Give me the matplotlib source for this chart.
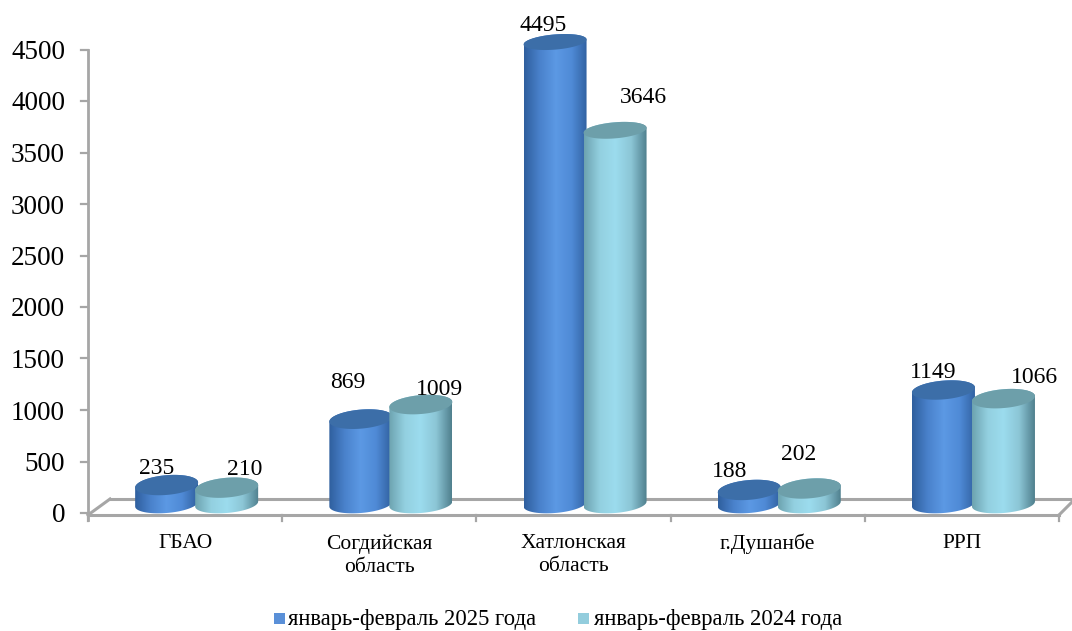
import numpy as np
import matplotlib
matplotlib.use("Agg")
import matplotlib.pyplot as plt
from matplotlib.colors import LinearSegmentedColormap
from matplotlib.patches import Polygon

W, H = 1072, 631

categories = ["ГБАО", "Согдийская\nобласть", "Хатлонская\nобласть", "г.Душанбе", "РРП"]
values_2025 = [235, 869, 4495, 188, 1149]
values_2024 = [210, 1009, 3646, 202, 1066]
series_names = ["январь-февраль 2025 года", "январь-февраль 2024 года"]
y_ticks = [0, 500, 1000, 1500, 2000, 2500, 3000, 3500, 4000, 4500]

# label nudges in pixels (dx, dy above the cylinder top), placed by hand in the original
label_nudge_2025 = [(-10, 17), (-13, 37), (-12, 17), (-20, 18), (-10, 18)]
label_nudge_2024 = [(18, 18), (19, 15), (28, 33), (-11, 34), (31, 21)]

plt.rcParams["font.family"] = ["Liberation Serif", "DejaVu Serif"]

blue = LinearSegmentedColormap.from_list("b", ["#2f5f9e", "#4a82cc", "#5c99e4", "#4f8ad6", "#30609f"])
teal = LinearSegmentedColormap.from_list("t", ["#6da3b0", "#93d0e0", "#9cdcee", "#8cc6d6", "#50808e"])
top_blue = "#3c6ea8"
top_teal = "#6d9faa"

X0, X1 = 88, 1059
Y_ZERO = 513
PX_PER_UNIT = 463.5 / 4500
YMIN, YMAX = -200, 4800

fig = plt.figure(figsize=(W / 100, H / 100), dpi=100)
bottom_px = Y_ZERO - YMIN * PX_PER_UNIT
top_px = Y_ZERO - YMAX * PX_PER_UNIT
ax = fig.add_axes([X0 / W, 1 - bottom_px / H, (X1 - X0) / W, (bottom_px - top_px) / H])
ax.set_zorder(1)
ax.set_xlim(-0.5, 4.5)
ax.set_ylim(YMIN, YMAX)
ax.patch.set_visible(False)
for s in ax.spines.values():
    s.set_visible(False)
ax.set_xticks([])
ax.set_yticks(y_ticks)
ax.tick_params(axis="y", length=0, labelsize=19.5, pad=16.5)

px_x = 5 / (X1 - X0)
px_y = 1 / PX_PER_UNIT


def line_px(x0, y0, x1, y1, lw=2.2, col="#a6a6a6"):
    fig.add_artist(plt.Line2D([x0 / W, x1 / W], [1 - y0 / H, 1 - y1 / H], color=col, lw=lw, zorder=0))


# 3d floor and axis
line_px(X0, 515, X1, 515)
line_px(110, 499, 1072, 499)
line_px(X0, 515, 110, 499)
line_px(X1, 515, 1072, 502)
line_px(X0, 49.5, X0, 520, lw=2)
for v in y_ticks:
    yy = Y_ZERO - v * PX_PER_UNIT
    line_px(81, yy, X0, yy, lw=1.6)
for i in range(6):
    xx = X0 + i * (X1 - X0) / 5
    line_px(xx, 515, xx, 521, lw=1.6)


def cylinder(xc, value, cmap, top_col, z):
    half_w = 31.5 * px_x
    frac = value / 4500
    # perspective: the top ellipse flattens and lifts as the bar gets taller
    b_top = (10 - 2.4 * frac) * px_y
    b_base = 9 * px_y
    tilt = 2.5 * px_y
    base = 9 * px_y
    top_y = value + (3.5 + 4.5 * frac) * px_y
    t = np.linspace(0, 2 * np.pi, 90)
    ex = half_w * np.cos(t)
    ey = b_top * np.sin(t) + tilt * np.cos(t)
    # body outline: lower half of base ellipse + upper half of top ellipse
    low = np.linspace(np.pi, 2 * np.pi, 45)
    high = np.linspace(0, np.pi, 45)
    xs = np.r_[xc + half_w * np.cos(low), xc + half_w * np.cos(high)]
    ys = np.r_[base + b_base * np.sin(low) + tilt * np.cos(low),
               top_y + b_top * np.sin(high) + tilt * np.cos(high)]
    grad = np.linspace(0, 1, 128).reshape(1, -1)
    im = ax.imshow(grad, cmap=cmap, extent=[xc - half_w, xc + half_w, -5 * px_y, top_y + 2 * b_top],
                   aspect="auto", zorder=z)
    body = Polygon(np.c_[xs, ys], closed=True, transform=ax.transData, fc="none", ec="none")
    ax.add_patch(body)
    im.set_clip_path(body)
    ax.add_patch(Polygon(np.c_[xc + ex, top_y + ey], closed=True, fc=top_col, ec="none", zorder=z + 0.1))
    return top_y


for i in range(len(categories)):
    x1 = i - 0.095
    x2 = i + 0.214
    t1 = cylinder(x1, values_2025[i], blue, top_blue, 3 + i)
    t2 = cylinder(x2, values_2024[i], teal, top_teal, 3.5 + i)
    dx, dy = label_nudge_2025[i]
    ax.text(x1 + dx * px_x, t1 + dy * px_y, str(values_2025[i]), ha="center", va="center", fontsize=17, zorder=20)
    dx, dy = label_nudge_2024[i]
    ax.text(x2 + dx * px_x, t2 + dy * px_y, str(values_2024[i]), ha="center", va="center", fontsize=17, zorder=20,
            clip_on=False)
    ax.text(i, -21 * px_y, categories[i], ha="center", va="top", fontsize=15.5, linespacing=1.3, clip_on=False)

ax.set_ylim(YMIN, YMAX)
ax.set_xlim(-0.5, 4.5)

# legend
for lx, tx, name, col in [(274, 288, series_names[0], "#5a90d8"), (578, 594, series_names[1], "#93cddd")]:
    fig.patches.append(plt.Rectangle((lx / W, 1 - 624 / H), 11 / W, 11 / H, transform=fig.transFigure, fc=col, ec="none"))
    fig.text(tx / W, 1 - 619 / H, name, ha="left", va="center", fontsize=16.3)

fig.savefig("out.png", dpi=100)
plt.close(fig)
